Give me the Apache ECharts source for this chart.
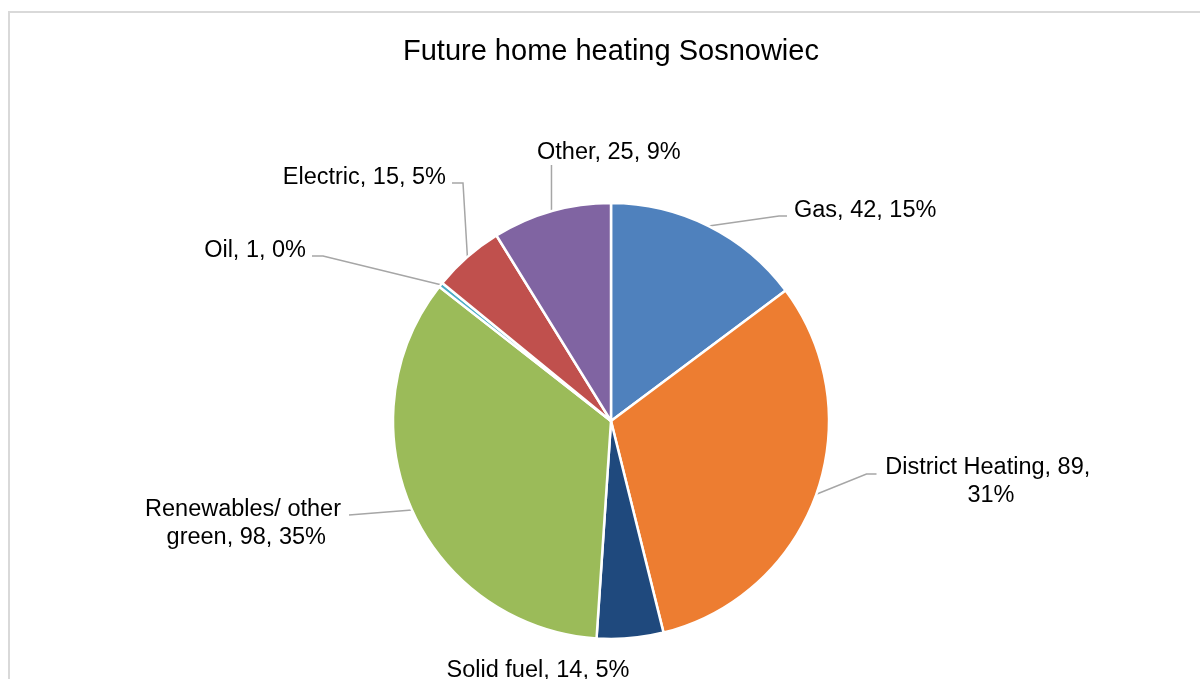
<!DOCTYPE html>
<html>
<head>
    <meta charset="utf-8"/>
    <title>Future home heating Sosnowiec</title>
    <script src="https://cdn.jsdelivr.net/npm/echarts@6/dist/echarts.min.js"></script>
    <style>
        html, body { margin: 0; padding: 0; background: #fff; }
        #chart { width: 1200px; height: 679px; }
    </style>
</head>
<body>
<div id="chart"></div>
<script>
    // 数据
    var categories = ['Gas', 'District Heating', 'Solid fuel', 'Renewables/ other green', 'Oil', 'Electric', 'Other'];
    var values = [42, 89, 14, 98, 1, 15, 25];
    var colors = ['#4F81BD', '#ED7D31', '#1F497D', '#9BBB59', '#4BACC6', '#C0504D', '#8064A2'];

    // 饼图位置
    var pieCenter = [611, 421];
    var pieRadius = 218;

    // 标签位置（手动摆放，类似Excel）  side: 引导线接在标签哪一边
    var labelPos = [
        {x: 794, y: 211, align: 'left', side: 'left', dy: 5, bend: 8},
        {x: 991, y: 482, align: 'center', side: 'left', dy: -8, bend: 10},
        {x: 538, y: 671, align: 'center', side: 'none'},
        {x: 243, y: 524, align: 'center', side: 'right', dy: -9, bend: 0},
        {x: 306, y: 251, align: 'right', side: 'right', dy: 5, bend: 11},
        {x: 446, y: 178, align: 'right', side: 'right', dy: 5, bend: 11},
        {x: 537, y: 153, align: 'left', side: 'bottom'}
    ];

    var total = 0;
    for (let i = 0; i < values.length; i++) total += values[i];

    // 扇区外缘中点
    function sliceEdge(idx) {
        var cum = 0;
        for (let i = 0; i < idx; i++) cum += values[i];
        var a = (cum + values[idx] / 2) / total * Math.PI * 2;
        return [pieCenter[0] + pieRadius * Math.sin(a), pieCenter[1] - pieRadius * Math.cos(a)];
    }

    var pieData = [];
    for (let i = 0; i < categories.length; i++) {
        var item = {name: categories[i], value: values[i], itemStyle: {color: colors[i]}};
        if (categories[i] == 'District Heating') {
            item.label = {width: 215, overflow: 'break'};
        }
        if (categories[i] == 'Renewables/ other green') {
            item.label = {width: 200, overflow: 'break'};
        }
        if (categories[i] == 'Solid fuel') {
            item.labelLine = {show: false};
        }
        pieData.push(item);
    }

    var myChart = echarts.init(document.getElementById('chart'));
    var option = {
        backgroundColor: '#fff',
        animation: false,
        title: {
            text: 'Future home heating Sosnowiec',
            left: 403,
            top: 37,
            padding: 0,
            textStyle: {
                color: '#000',
                fontSize: 29,
                fontWeight: 'normal',
                fontFamily: 'Liberation Sans, Arial, sans-serif'
            }
        },
        graphic: [{
            type: 'rect',
            silent: true,
            shape: {x: 9, y: 12, width: 1400, height: 1000},
            style: {fill: 'none', stroke: '#d9d9d9', lineWidth: 2}
        }],
        series: [{
            type: 'pie',
            center: pieCenter,
            radius: pieRadius,
            startAngle: 90,
            clockwise: true,
            percentPrecision: 0,
            avoidLabelOverlap: false,
            itemStyle: {borderColor: '#fff', borderWidth: 2.5},
            label: {
                show: true,
                position: 'outside',
                color: '#000',
                fontSize: 23.5,
                lineHeight: 28,
                fontFamily: 'Liberation Sans, Arial, sans-serif',
                formatter: function (p) {
                    return p.name + ', ' + p.value + ', ' + p.percent + '%';
                }
            },
            labelLine: {
                show: true,
                length: 15,
                length2: 10,
                lineStyle: {color: '#a6a6a6', width: 1.5}
            },
            labelLayout: function (params) {
                var p = labelPos[params.dataIndex];
                var w = params.labelRect.width;
                var h = params.labelRect.height;
                var left = p.align == 'left' ? p.x : (p.align == 'right' ? p.x - w : p.x - w / 2);
                var top = p.y - h / 2;
                var s = sliceEdge(params.dataIndex);
                var res = {x: p.x, y: p.y, align: p.align, verticalAlign: 'middle'};
                var ex, ey;
                if (p.side == 'left') {
                    ex = left - 7;
                    ey = p.y + p.dy;
                    res.labelLinePoints = [s, [ex - p.bend, ey], [ex, ey]];
                } else if (p.side == 'right') {
                    ex = left + w + 6;
                    ey = p.y + p.dy;
                    res.labelLinePoints = [s, [ex + p.bend, ey], [ex, ey]];
                } else if (p.side == 'bottom') {
                    ey = top + h - 2;
                    res.labelLinePoints = [s, [s[0], ey], [s[0], ey]];
                }
                return res;
            },
            emphasis: {disabled: true},
            data: pieData
        }]
    };
    myChart.setOption(option);

    window.onresize = function () {
        myChart.resize();
    };
</script>
</body>
</html>
